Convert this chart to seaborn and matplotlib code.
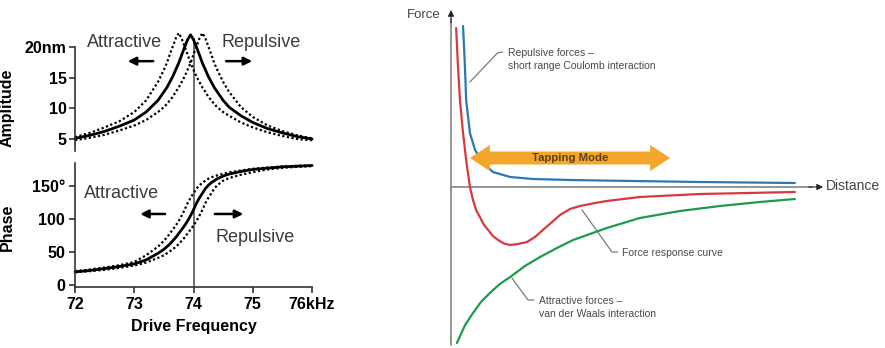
import matplotlib
matplotlib.use("Agg")
import matplotlib.pyplot as plt
import seaborn as sns
import pandas as pd
from matplotlib.patches import Polygon

# ---------------- data: left panels (drive frequency in kHz) ----------------
freq = [72.0, 72.25, 72.5, 72.75, 73.0, 73.2, 73.4, 73.5, 73.55, 73.6, 73.65, 73.7,
        73.75, 73.8, 73.85, 73.9, 73.95, 74.0, 74.05, 74.1, 74.15, 74.2, 74.25, 74.3,
        74.35, 74.4, 74.5, 74.6, 74.8, 75.0, 75.25, 75.5, 75.75, 76.0]

amp_solid = [5.1, 5.6, 6.25, 7.1, 8.1, 9.4, 11.3, 12.7, 13.4, 14.3, 15.2, 16.3,
             17.4, 18.7, 20.0, 21.2, 22.0, 21.2, 20.0, 18.7, 17.4, 16.3, 15.2, 14.3,
             13.4, 12.7, 11.3, 10.2, 8.8, 7.7, 6.7, 6.0, 5.4, 5.0]
amp_left = [5.3, 6.0, 6.9, 7.9, 9.4, 11.3, 14.3, 16.3, 17.4, 18.8, 20.1, 21.4,
            22.3, 21.4, 20.1, 18.8, 17.4, 16.3, 15.2, 14.3, 13.4, 12.7, 11.9, 11.3,
            10.7, 10.2, 9.4, 8.8, 7.7, 6.9, 6.1, 5.5, 5.0, 4.8]
amp_right = [4.8, 5.2, 5.7, 6.4, 7.2, 8.1, 9.4, 10.2, 10.7, 11.3, 11.9, 12.7,
             13.4, 14.3, 15.2, 16.3, 17.4, 18.8, 20.1, 21.4, 22.3, 21.4, 20.1, 18.8,
             17.4, 16.3, 14.3, 12.7, 10.2, 8.6, 7.2, 6.3, 5.6, 5.1]

phase_solid = [20, 22, 25, 28, 32, 38, 48, 54, 58, 62, 67, 72,
               78, 84, 90, 97, 105, 114, 124, 132, 139, 146, 151, 155,
               158, 161, 165, 168, 172, 175, 177, 179, 180, 181]
phase_left = [21, 23.5, 26.5, 30, 35, 45, 58, 67, 72, 78, 84, 90,
              97, 105, 114, 124, 132, 139, 146, 151, 155, 158, 161, 163,
              165, 166, 168.5, 170.5, 173.5, 176, 178, 179.5, 180.5, 181]
phase_right = [19, 21, 23, 26, 29.5, 34, 41, 45, 48, 51, 54, 58,
               62, 67, 72, 78, 84, 90, 97, 105, 114, 124, 132, 139,
               146, 151, 158, 162, 167, 171, 175, 177.5, 179, 180]

freq_ticks = [72, 73, 74, 75, 76]
freq_labels = ["72", "73", "74", "75", "76kHz"]
amp_ticks = [5, 10, 15, 20]
amp_labels = ["5", "10", "15", "20nm"]
phase_ticks = [0, 50, 100, 150]
phase_labels = ["0", "50", "100", "150°"]

# ---------------- data: right panel (distance vs force, arbitrary units) ----------------
dist_rep = [0.35, 0.39, 0.42, 0.44, 0.55, 0.70, 0.93, 1.22, 1.72, 2.38, 3.46,
            4.33, 7.24, 10.0]
force_rep = [16.1, 13.2, 10.7, 8.7, 5.4, 3.7, 2.4, 1.5, 1.0, 0.8, 0.7,
             0.65, 0.5, 0.4]

dist_resp = [0.15, 0.20, 0.26, 0.35, 0.44, 0.55, 0.64, 0.73, 0.84, 0.96, 1.08,
             1.22, 1.37, 1.54, 1.72, 1.95, 2.21, 2.44, 2.67, 2.94, 3.17, 3.46, 3.75,
             4.19, 4.53, 5.49, 7.24, 10.0]
force_resp = [15.9, 12.2, 8.7, 5.4, 2.7, 0.0, -1.3, -2.3, -3.0, -3.8, -4.3,
              -4.9, -5.3, -5.65, -5.8, -5.7, -5.5, -5.0, -4.3, -3.5, -2.8, -2.2, -1.9,
              -1.6, -1.4, -1.0, -0.7, -0.5]

dist_att = [0.17, 0.41, 0.64, 0.87, 1.13, 1.42, 1.72, 2.15, 2.59, 3.08, 3.55, 4.04,
            4.53, 5.49, 6.66, 7.82, 8.98, 10.0]
force_att = [-15.6, -13.8, -12.6, -11.5, -10.6, -9.7, -9.0, -7.9, -7.0, -6.1, -5.3, -4.7,
             -4.1, -3.1, -2.4, -1.9, -1.5, -1.2]

# ---------------- style ----------------
sns.set_theme(style="white")
plt.rcParams["font.family"] = ["Liberation Sans", "DejaVu Sans"]

W, H = 885, 348
fig = plt.figure(figsize=(W / 100, H / 100), dpi=100)


def px_axes(x0, y0, x1, y1):
    return fig.add_axes([x0 / W, 1 - y1 / H, (x1 - x0) / W, (y1 - y0) / H])


TXT = "#3a3a3a"
BOLD = dict(fontsize=11.5, fontweight="bold", color="black")

# ---------------- amplitude panel ----------------
axA = px_axes(72, 25, 318, 163)
axA.set_facecolor("none")
axA.set_xlim(71.95, 76.1)
axA.set_ylim(1.09, 23.6)
axA.vlines(74, 1.09, 21.5, color="#555555", lw=1.2, zorder=1)
for amp in [amp_left, amp_right]:
    sns.lineplot(x=freq, y=amp, ax=axA, color="black", lw=1.6, linestyle=(0, (1, 1.1)),
                 estimator=None, sort=False, legend=False)
sns.lineplot(x=freq, y=amp_solid, ax=axA, color="black", lw=2.0,
             estimator=None, sort=False, legend=False)
for s in ["top", "right", "bottom"]:
    axA.spines[s].set_visible(False)
axA.spines["left"].set_position(("data", 72))
axA.spines["left"].set_bounds(3, 20)
axA.spines["left"].set_color("#333333")
axA.spines["left"].set_linewidth(1.2)
axA.set_xticks([])
axA.set_yticks(amp_ticks)
axA.set_yticklabels(amp_labels, **BOLD)
axA.tick_params(axis="y", left=True, direction="out", length=4, width=1.2, pad=2, colors="#333333")
for t in axA.get_yticklabels():
    t.set_color("black")
axA.set_ylabel("Amplitude", **BOLD)
axA.yaxis.set_label_coords(-0.232, 0.40)
axA.text(72.83, 20.8, "Attractive", fontsize=13, color=TXT, ha="center", va="center")
axA.text(75.14, 20.8, "Repulsive", fontsize=13, color=TXT, ha="center", va="center")
arrow_kw = dict(arrowstyle="-|>", color="black", lw=1.8, mutation_scale=12, shrinkA=0, shrinkB=0)
axA.annotate("", xy=(72.89, 17.7), xytext=(73.32, 17.7), arrowprops=arrow_kw)
axA.annotate("", xy=(74.99, 17.7), xytext=(74.55, 17.7), arrowprops=arrow_kw)

# ---------------- phase panel ----------------
axP = px_axes(72, 163, 318, 287)
axP.set_facecolor("none")
axP.set_xlim(71.95, 76.1)
axP.set_ylim(-3, 184.8)
axP.axvline(74, color="#555555", lw=1.2, zorder=1)
for ph in [phase_left, phase_right]:
    sns.lineplot(x=freq, y=ph, ax=axP, color="black", lw=1.6, linestyle=(0, (1, 1.1)),
                 estimator=None, sort=False, legend=False)
sns.lineplot(x=freq, y=phase_solid, ax=axP, color="black", lw=2.0,
             estimator=None, sort=False, legend=False)
for s in ["top", "right"]:
    axP.spines[s].set_visible(False)
axP.spines["left"].set_position(("data", 72))
axP.spines["bottom"].set_bounds(72, 76)
for s in ["left", "bottom"]:
    axP.spines[s].set_color("#333333")
    axP.spines[s].set_linewidth(1.2)
axP.set_xticks(freq_ticks)
axP.set_xticklabels(freq_labels, **BOLD)
axP.set_yticks(phase_ticks)
axP.set_yticklabels(phase_labels, **BOLD)
axP.tick_params(axis="both", left=True, bottom=True, direction="out", length=4, width=1.2,
                pad=3, colors="#333333")
for t in axP.get_yticklabels() + axP.get_xticklabels():
    t.set_color("black")
axP.set_ylabel("Phase", **BOLD)
axP.yaxis.set_label_coords(-0.232, 0.484)
axP.set_xlabel("Drive Frequency", **BOLD)
axP.xaxis.set_label_coords(0.494, -0.26)
axP.text(72.78, 139, "Attractive", fontsize=13, color=TXT, ha="center", va="center")
axP.text(75.04, 72.7, "Repulsive", fontsize=13, color=TXT, ha="center", va="center")
axP.annotate("", xy=(73.1, 107.6), xytext=(73.52, 107.6), arrowprops=arrow_kw)
axP.annotate("", xy=(74.84, 107.6), xytext=(74.36, 107.6), arrowprops=arrow_kw)

# ---------------- force-distance panel ----------------
axF = px_axes(440, 0, 885, 348)
axF.set_xlim(-0.32, 12.62)
axF.set_ylim(-16.1, 18.7)
axF.axis("off")

AX_GRAY = "#8c8c8c"
axF.plot([0, 0], [-15.8, 16.8], color=AX_GRAY, lw=1.3, zorder=2)
axF.annotate("", xy=(0, 17.7), xytext=(0, 16.4),
             arrowprops=dict(arrowstyle="-|>", color="#222222", lw=0.8, mutation_scale=9,
                             shrinkA=0, shrinkB=0))
axF.plot([0, 10.5], [0, 0], color=AX_GRAY, lw=1.3, zorder=2)
axF.annotate("", xy=(10.82, 0), xytext=(10.4, 0),
             arrowprops=dict(arrowstyle="-|>", color="#222222", lw=0.8, mutation_scale=9,
                             shrinkA=0, shrinkB=0))
axF.text(-0.78, 17.2, "Force", fontsize=9.5, color="#444444", ha="center", va="center")
axF.text(10.9, 0.1, "Distance", fontsize=10, color="#444444", ha="left", va="center")

# Tapping Mode double arrow (orange)
xl, xr, yc = 0.55, 6.37, 2.9
hl, bh, hh = 0.58, 0.65, 1.3
arrow_pts = [(xl, yc), (xl + hl, yc + hh), (xl + hl, yc + bh), (xr - hl, yc + bh),
             (xr - hl, yc + hh), (xr, yc), (xr - hl, yc - hh), (xr - hl, yc - bh),
             (xl + hl, yc - bh), (xl + hl, yc - hh)]
axF.add_patch(Polygon(arrow_pts, closed=True, facecolor="#f4a62c", edgecolor="none", zorder=4))
axF.text((xl + xr) / 2, yc, "Tapping Mode", fontsize=8.2, fontweight="semibold",
         color="#5a4218", ha="center", va="center", zorder=5)

sns.lineplot(x=dist_att, y=force_att, ax=axF, color="#1e9a4e", lw=1.6,
             estimator=None, sort=False, legend=False, zorder=3)
sns.lineplot(x=dist_resp, y=force_resp, ax=axF, color="#d9383f", lw=1.6,
             estimator=None, sort=False, legend=False, zorder=3)
sns.lineplot(x=dist_rep, y=force_rep, ax=axF, color="#2a78b6", lw=1.6,
             estimator=None, sort=False, legend=False, zorder=3.5)

LEAD = "#7a7a7a"
NOTE = dict(fontsize=7.5, color="#4a4a4a", ha="left", va="center", linespacing=1.45)
axF.plot([0.55, 1.35, 1.5], [10.5, 13.4, 13.5], color=LEAD, lw=0.9)
axF.text(1.66, 12.75, "Repulsive forces –\nshort range Coulomb interaction", **NOTE)
axF.plot([3.81, 4.68, 4.85], [-2.3, -6.5, -6.5], color=LEAD, lw=0.9)
axF.text(4.97, -6.6, "Force response curve", **NOTE)
axF.plot([1.77, 2.24, 2.41], [-9.1, -11.3, -11.3], color=LEAD, lw=0.9)
axF.text(2.56, -12.05, "Attractive forces –\nvan der Waals interaction", **NOTE)

fig.savefig("out.png", dpi=100)
